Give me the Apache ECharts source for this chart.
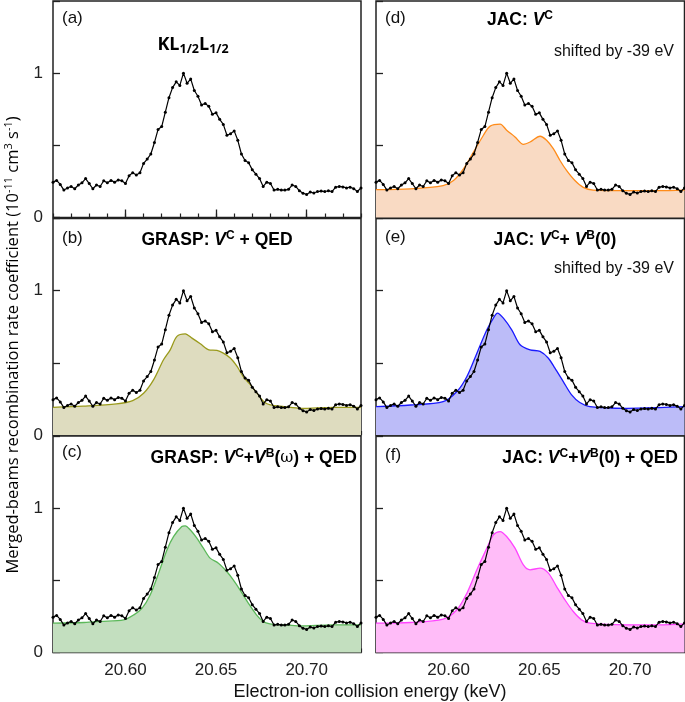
<!DOCTYPE html>
<html><head><meta charset="utf-8">
<script src="https://cdn.jsdelivr.net/npm/echarts@6/dist/echarts.min.js"></script>
<style>html,body{margin:0;padding:0;background:#fff}#c{width:685px;height:702px}</style>
</head><body><div id="c"></div>
<script>
// Experimental energies (keV) and merged-beams rate coefficient (1e-11 cm^3 s^-1)
const expEnergy = [20.560,20.562,20.564,20.566,20.568,20.570,20.572,20.574,20.576,20.578,
20.580,20.582,20.584,20.586,20.588,20.590,20.592,20.594,20.596,20.598,
20.600,20.602,20.604,20.606,20.608,20.610,20.612,20.614,20.616,20.618,
20.620,20.622,20.624,20.626,20.628,20.630,20.632,20.634,20.636,20.638,
20.640,20.642,20.644,20.646,20.648,20.650,20.652,20.654,20.656,20.658,
20.660,20.662,20.664,20.666,20.668,20.670,20.672,20.674,20.676,20.678,
20.680,20.682,20.684,20.686,20.688,20.690,20.692,20.694,20.696,20.698,
20.700,20.702,20.704,20.706,20.708,20.710,20.712,20.714,20.716,20.718,
20.720,20.722,20.724,20.726,20.728,20.730];
const expRate = [0.245,0.257,0.229,0.190,0.205,0.215,0.199,0.225,0.240,0.270,
0.235,0.199,0.225,0.215,0.255,0.240,0.257,0.245,0.260,0.255,
0.236,0.290,0.310,0.295,0.310,0.375,0.405,0.440,0.520,0.610,
0.630,0.730,0.830,0.900,0.940,0.915,1.000,0.930,0.960,0.880,
0.840,0.780,0.790,0.770,0.715,0.725,0.680,0.645,0.570,0.580,
0.600,0.535,0.440,0.395,0.380,0.330,0.300,0.270,0.215,0.245,
0.235,0.190,0.195,0.190,0.190,0.195,0.225,0.215,0.185,0.168,
0.160,0.176,0.170,0.180,0.183,0.180,0.185,0.180,0.210,0.215,
0.212,0.205,0.210,0.200,0.180,0.205];

// Theory curves [energy keV, rate]
const graspVcQed = [[20.560,0.192],[20.5766,0.200],[20.595,0.215],[20.604,0.238],[20.610,0.289],[20.6155,0.382],[20.621,0.521],[20.6247,0.590],[20.6284,0.683],[20.633,0.701],[20.6367,0.671],[20.6413,0.632],[20.646,0.590],[20.6505,0.586],[20.654,0.567],[20.658,0.532],[20.6616,0.475],[20.665,0.405],[20.669,0.347],[20.6727,0.289],[20.6764,0.231],[20.680,0.208],[20.6875,0.197],[20.6967,0.185],[20.715,0.192],[20.730,0.192]];
const graspVcVbQed = [[20.560,0.203],[20.5771,0.208],[20.5863,0.215],[20.599,0.226],[20.6046,0.261],[20.6092,0.307],[20.6137,0.400],[20.6183,0.550],[20.6229,0.711],[20.6266,0.804],[20.6311,0.873],[20.633,0.878],[20.6357,0.850],[20.6394,0.792],[20.643,0.723],[20.6467,0.654],[20.6513,0.619],[20.6559,0.561],[20.6595,0.503],[20.6632,0.434],[20.6678,0.342],[20.6723,0.261],[20.676,0.215],[20.6797,0.199],[20.687,0.192],[20.6962,0.185],[20.7145,0.192],[20.730,0.192]];
const jacVc = [[20.560,0.193],[20.579,0.198],[20.597,0.221],[20.6027,0.256],[20.6082,0.337],[20.6137,0.453],[20.6192,0.570],[20.6229,0.633],[20.6284,0.647],[20.632,0.605],[20.6366,0.558],[20.6412,0.507],[20.6449,0.523],[20.6504,0.563],[20.654,0.535],[20.6577,0.477],[20.6614,0.395],[20.665,0.326],[20.6696,0.256],[20.6742,0.209],[20.6797,0.190],[20.698,0.186],[20.716,0.186],[20.730,0.190]];
const jacVcVb = [[20.560,0.197],[20.579,0.208],[20.597,0.231],[20.6046,0.301],[20.6101,0.405],[20.6156,0.567],[20.6211,0.729],[20.6247,0.810],[20.6269,0.845],[20.6302,0.810],[20.6348,0.729],[20.6394,0.625],[20.6449,0.590],[20.6504,0.579],[20.655,0.532],[20.6586,0.463],[20.6632,0.370],[20.6678,0.278],[20.6723,0.225],[20.6778,0.197],[20.698,0.185],[20.716,0.190],[20.730,0.197]];
const jacVcVbQed = [[20.560,0.203],[20.579,0.208],[20.597,0.231],[20.6046,0.296],[20.6101,0.411],[20.6156,0.573],[20.6211,0.723],[20.6247,0.815],[20.6284,0.838],[20.632,0.804],[20.6366,0.723],[20.6412,0.607],[20.6449,0.573],[20.6504,0.584],[20.655,0.550],[20.6595,0.457],[20.6641,0.365],[20.6687,0.284],[20.6733,0.226],[20.6778,0.203],[20.698,0.192],[20.716,0.192],[20.730,0.199]];

const xMajorTicks = [20.60, 20.65, 20.70];
const yTickLabels = {0: '0', 1: '1'};

const panels = [
  {left: 53, top: 1, theory: null},
  {left: 53, top: 218.5, theory: graspVcQed, line: '#9a9a1c', fill: '#dedcbf'},
  {left: 53, top: 436, theory: graspVcVbQed, line: '#5cb85a', fill: '#c3dfbf', bottom: true},
  {left: 376, top: 1, theory: jacVc, line: '#ff8c1a', fill: '#f9dac3', right: true},
  {left: 376, top: 218.5, theory: jacVcVb, line: '#1a1aff', fill: '#bcbcf8', right: true},
  {left: 376, top: 436, theory: jacVcVbQed, line: '#ff44ff', fill: '#ffbcf8', right: true, bottom: true}
];

const FONT = 'Liberation Sans, Arial, sans-serif';
const grid = [], xAxis = [], yAxis = [], series = [];
const expData = expEnergy.map((e, i) => [e, expRate[i]]);
panels.forEach((p, k) => {
  grid.push({left: p.left, top: p.top, width: p.right ? 308.5 : 308, height: 216.5,
    show: true, borderColor: '#222', borderWidth: 1.5, backgroundColor: 'transparent', containLabel: false});
  xAxis.push({type: 'value', gridIndex: k, min: 20.56, max: 20.73, position: 'bottom',
    axisLine: {show: false}, splitLine: {show: false},
    axisTick: {show: true, inside: true, length: 8, lineStyle: {color: '#222', width: 1.3}, customValues: xMajorTicks},
    axisLabel: {show: !!p.bottom, customValues: xMajorTicks, formatter: v => v.toFixed(2),
      fontFamily: FONT, fontSize: 17, color: '#222', margin: 9}});
  xAxis.push({type: 'value', gridIndex: k, min: 20.56, max: 20.73, interval: 0.01, position: 'bottom',
    axisLine: {show: false}, splitLine: {show: false}, axisLabel: {show: false},
    axisTick: {show: true, inside: true, length: 4, lineStyle: {color: '#222', width: 1.2}}});
  yAxis.push({type: 'value', gridIndex: k, min: 0, max: 1.5, interval: 0.5,
    axisLine: {show: false}, splitLine: {show: false},
    axisTick: {show: true, inside: true, length: 7, lineStyle: {color: '#222', width: 1.3}},
    axisLabel: {show: !p.right, formatter: v => yTickLabels[v] || '', fontFamily: FONT, fontSize: 17, color: '#222', margin: 10}});
  if (p.theory) {
    series.push({type: 'line', xAxisIndex: 2 * k, yAxisIndex: k, data: p.theory, smooth: 0.3,
      symbol: 'none', lineStyle: {color: p.line, width: 1.3}, areaStyle: {color: p.fill, opacity: 1, origin: 'start'},
      silent: true, animation: false, z: 2});
  }
  series.push({type: 'line', xAxisIndex: 2 * k, yAxisIndex: k, data: expData,
    symbol: 'circle', symbolSize: 3, showSymbol: true, itemStyle: {color: '#000'},
    lineStyle: {color: '#000', width: 1.2}, silent: true, animation: false, z: 3});
});

const B = {fontFamily: FONT, fontWeight: 'bold', fontSize: 17.5, lineHeight: 21, color: '#111'};
const BI = Object.assign({}, B, {fontStyle: 'italic'});
const SUP = {fontFamily: FONT, fontWeight: 'bold', fontSize: 12, lineHeight: 12, verticalAlign: 'top', color: '#111'};
const OM = {fontFamily: 'DejaVu Serif, serif', fontSize: 16, lineHeight: 21, color: '#111'};
const richT = {b: B, bi: BI, sup: SUP, om: OM};
function txt(x, y, text, align, rich, style) {
  return {type: 'text', x: x, y: y, z: 10, style: Object.assign({text: text, align: align, verticalAlign: 'middle', rich: rich}, style || {})};
}
const REG = {fontFamily: FONT, fontSize: 17, fill: '#111'};
const SHIFT = {fontFamily: FONT, fontSize: 16, fill: '#111'};
const graphic = [
  txt(62, 18, '(a)', 'left', null, REG),
  txt(62, 238, '(b)', 'left', null, REG),
  txt(62, 452, '(c)', 'left', null, REG),
  txt(385, 18, '(d)', 'left', null, REG),
  txt(385, 237, '(e)', 'left', null, REG),
  txt(385, 455, '(f)', 'left', null, REG),
  txt(193, 45, '{k|KL}{s|1/2}{k|L}{s|1/2}', 'center', {
    k: {fontFamily: 'Open Sans, sans-serif', fontWeight: 'bold', fontSize: 18, lineHeight: 22, color: '#111'},
    s: {fontFamily: 'Open Sans, sans-serif', fontWeight: 'bold', fontSize: 12.5, lineHeight: 12, verticalAlign: 'bottom', color: '#111'}}),
  txt(217, 240, '{b|GRASP: }{bi|V}{sup|C}{b| + QED}', 'center', richT),
  txt(357, 458, '{b|GRASP: }{bi|V}{sup|C}{b|+}{bi|V}{sup|B}{b|(}{om|ω}{b|) + QED}', 'right', richT),
  txt(520, 20, '{b|JAC: }{bi|V}{sup|C}', 'center', richT),
  txt(674, 52, 'shifted by -39 eV', 'right', null, SHIFT),
  txt(555, 240, '{b|JAC: }{bi|V}{sup|C}{b|+ }{bi|V}{sup|B}{b|(0)}', 'center', richT),
  txt(674, 269, 'shifted by -39 eV', 'right', null, SHIFT),
  txt(678, 458, '{b|JAC: }{bi|V}{sup|C}{b|+}{bi|V}{sup|B}{b|(0) + QED}', 'right', richT),
  txt(370, 692, 'Electron-ion collision energy (keV)', 'center', null, {fontFamily: FONT, fontSize: 18, fill: '#111'}),
  {type: 'text', x: 13, y: 345, rotation: Math.PI / 2, z: 10, style: {
    text: '{t|Merged-beams recombination rate coefficient (10}{s|-11}{t| cm}{s|3}{t| s}{s|-1}{t|)}',
    align: 'center', verticalAlign: 'middle',
    rich: {t: {fontFamily: 'Open Sans, sans-serif', fontSize: 16.5, lineHeight: 20, color: '#111'},
           s: {fontFamily: 'Open Sans, sans-serif', fontSize: 11, lineHeight: 11, verticalAlign: 'top', color: '#111'}}}}
];

const chart = echarts.init(document.getElementById('c'), null, {renderer: 'canvas'});
chart.setOption({animation: false, grid: grid, xAxis: xAxis, yAxis: yAxis, series: series, graphic: graphic});
</script></body></html>
